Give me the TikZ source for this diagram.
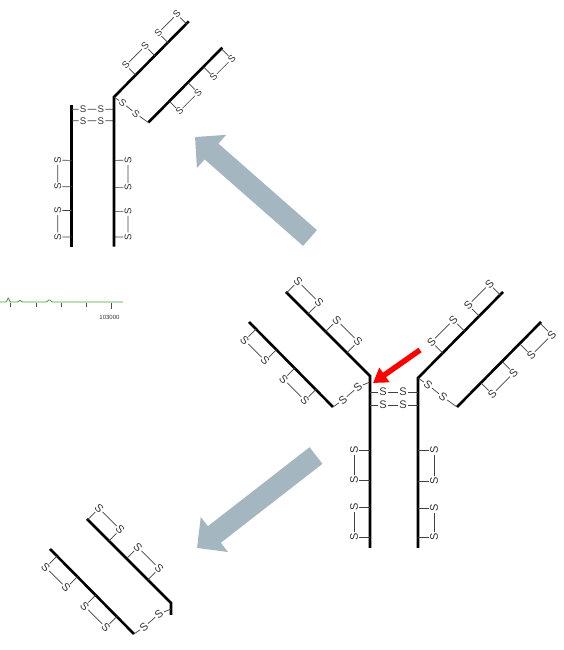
\documentclass[tikz,border=0pt]{standalone}
\usepackage{fontspec}
\setmainfont{Liberation Sans}
\usetikzlibrary{arrows.meta}

\definecolor{slate}{RGB}{164,182,192}
\definecolor{trace}{RGB}{70,160,60}

\tikzstyle{chainline} = [line width=2.6pt, black, line join=miter]
\tikzstyle{bond} = [line width=0.7pt, black!75]
\tikzstyle{sulfur} = [transform shape, inner sep=1.2pt, text=black!80,
    font=\fontsize{11}{11}\selectfont]
\tikzstyle{bigarrow} = [line width=21pt, slate, -{Triangle[length=22pt,width=43pt]}]
\tikzstyle{redarrow} = [line width=5.5pt, red, -{Triangle[length=14pt,width=17pt]}]

% intrachain S-S loop: name, chain origin, chain angle, two positions, side
\newcommand{\sspair}[6]{%
  \begin{scope}[shift={#2}, rotate=#3]
    \node[sulfur] (#1a) at (#4,#6*16) {S};
    \node[sulfur] (#1b) at (#5,#6*16) {S};
    \draw[bond] (#4,0) -- (#1a) -- (#1b) -- (#5,0);
  \end{scope}}

% left Fab arm, heavy chain runs on down the stem to #1
\newcommand{\leftarm}[1]{%
  \draw[chainline] (286,358) -- (370,274) -- (370,#1);
  \sspair{lhA}{(286,358)}{-45}{1}{31}{1}
  \sspair{lhB}{(286,358)}{-45}{56}{86}{1}
  \draw[chainline] (249,328) coordinate (llout) -- (333,243) coordinate (llin);
  \sspair{llA}{(249,328)}{-45}{10}{39}{-1}
  \sspair{llB}{(249,328)}{-45}{65}{95}{-1}
  \node[sulfur, rotate=41] (lk1) at (343,250) {S};
  \node[sulfur, rotate=41] (lk2) at (358,263) {S};
  \coordinate (lkend) at (370,268);
  \draw[bond] (llin) -- (lk1) -- (lk2) -- (lkend);}

% right Fab arm
\newcommand{\rightarm}[1]{%
  \draw[chainline] (503,358) -- (418,272) -- (418,#1);
  \sspair{rhA}{(418,272)}{45}{35}{66}{1}
  \sspair{rhB}{(418,272)}{45}{87}{117}{1}
  \draw[chainline] (457,243) coordinate (rlin) -- (541,328) coordinate (rlout);
  \sspair{rlA}{(457,243)}{45}{34}{64}{-1}
  \sspair{rlB}{(457,243)}{45}{89}{118}{-1}
  \node[sulfur, rotate=-39] (rk1) at (428,265) {S};
  \node[sulfur, rotate=-39] (rk2) at (443,253) {S};
  \coordinate (rkstart) at (418,272);
  \draw[bond] (rkstart) -- (rk1) -- (rk2) -- (rlin);}

% Fc loops
\newcommand{\leftstemss}{%
  \sspair{lsA}{(370,102)}{90}{11}{41}{1}
  \sspair{lsB}{(370,102)}{90}{68}{98}{1}}
\newcommand{\rightstemss}{%
  \sspair{rsA}{(418,102)}{90}{11}{40}{-1}
  \sspair{rsB}{(418,102)}{90}{67}{98}{-1}}

% hinge
\newcommand{\hinge}{%
  \node[sulfur] (hA1) at (383,258) {S};
  \node[sulfur] (hA2) at (403,258) {S};
  \node[sulfur] (hB1) at (383,245) {S};
  \node[sulfur] (hB2) at (403,245) {S};
  \draw[bond] (370,258) -- (hA1) -- (hA2) -- (418,258);
  \draw[bond] (370,245) -- (hB1) -- (hB2) -- (418,245);}

\begin{document}
\begin{tikzpicture}[x=1pt, y=1pt]
\useasboundingbox (0,0) rectangle (564,650);

% intact antibody
\leftarm{102}
\rightarm{102}
\leftstemss
\rightstemss
\hinge

% cleavage site
\coordinate (rtail) at (420,300);
\coordinate (rtip) at (373,267);
\draw[redarrow] (rtail) -- (rtip);

% products
\coordinate (upTail) at (310,412);
\coordinate (upTip) at (195,513);
\draw[bigarrow] (upTail) -- (upTip);
\coordinate (dnTail) at (316,194.5);
\coordinate (dnTip) at (197,102);
\draw[bigarrow] (dnTail) -- (dnTip);

% Fab/c
\begin{scope}[shift={(-253.84,313.64)}, scale=0.88]
  \draw[chainline] (370,263) -- (370,102);
  \leftstemss
  \hinge
  \rightstemss
  \rightarm{102}
\end{scope}

% Fab
\begin{scope}[shift={(-199,-227)}]
  \leftarm{262}
\end{scope}

% piece of the mass spectrum
\draw[trace, line width=0.8pt, rounded corners=0.8pt] (0,348) -- (6.5,348) -- (8.3,352.6)
  -- (10,348) -- (18,348) -- (20,350) -- (22,348) -- (46.5,348) -- (49.3,350.5)
  -- (52,348) -- (123,348);
\foreach \tx in {10.7,36,61,86.7} {
  \draw[black!70, line width=0.6pt] (\tx,346.6) -- (\tx,343.4);
}
\draw[black!70, line width=0.6pt] (111.7,346.6) -- (111.7,340.5);
\node[text=black!80, font=\fontsize{6}{6}\selectfont, inner sep=0pt] (mz) at (109.5,332.7) {103000};
\end{tikzpicture}
\end{document}
